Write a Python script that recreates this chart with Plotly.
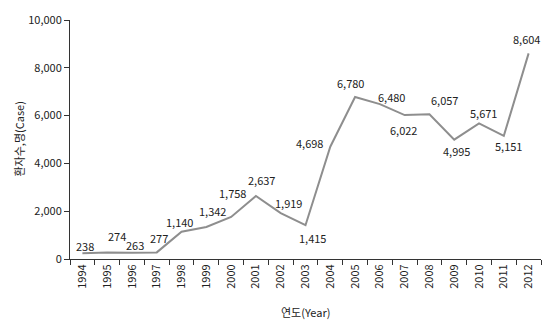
import plotly.graph_objects as go

years = [str(y) for y in range(1994, 2013)]
cases = [238, 274, 263, 277, 1140, 1342, 1758, 2637, 1919, 1415, 4698,
         6780, 6480, 6022, 6057, 4995, 5671, 5151, 8604]
labels = [f"{v:,}" for v in cases]
# label offsets in pixels (style)
label_dx = [3, 10, 3, 2, -2, 6, 1, 6, 8, 7, -21, -5, 12, -1, 15, 2, 4, 5, -2]
label_dy = [-7, -16, -8, -14, -10, -16, -24, -16, -10, 13, -4, -14, -7, 15, -14, 11, -10, 10, -14]

FONT = "Noto Sans CJK KR, DejaVu Sans, sans-serif"

fig = go.Figure()
fig.add_trace(go.Scatter(x=years, y=cases, mode="lines",
                         line=dict(color="#8e8e8e", width=2), hoverinfo="skip"))

for i, (y, t, dx, dy) in enumerate(zip(cases, labels, label_dx, label_dy)):
    fig.add_annotation(x=i, y=y, text=t, showarrow=False, xshift=dx, yshift=-dy,
                       font=dict(family=FONT, size=11, color="#222"))

fig.add_annotation(xref="paper", yref="paper", x=0, y=0.5, xshift=-52,
                   xanchor="center", yanchor="middle",
                   text="환자수,명(Case)", textangle=-90, showarrow=False,
                   font=dict(family=FONT, size=11, color="#222"))
fig.add_annotation(xref="paper", yref="paper", x=0.5, y=0, yshift=-43,
                   text="연도(Year)", showarrow=False, yanchor="top",
                   font=dict(family=FONT, size=11, color="#222"))

fig.update_layout(
    width=552, height=329,
    margin=dict(l=70, r=11, t=13, b=70),
    plot_bgcolor="white", paper_bgcolor="white",
    showlegend=False,
    font=dict(family=FONT, size=11, color="#222"),
)
fig.update_xaxes(type="category", range=[-0.5, len(years) - 0.5],
                 tickson="boundaries", ticks="outside", ticklen=5,
                 tickcolor="#333", showline=True, linecolor="#333", linewidth=1,
                 tickangle=-90, showgrid=False, tickfont=dict(size=11))
fig.update_yaxes(range=[0, 10000], dtick=2000, tickformat=",", ticks="outside", ticklen=5,
                 tickcolor="#333", showline=True, linecolor="#333", linewidth=1,
                 showgrid=False, zeroline=False, tickfont=dict(size=11))

fig.write_html("out.html")
